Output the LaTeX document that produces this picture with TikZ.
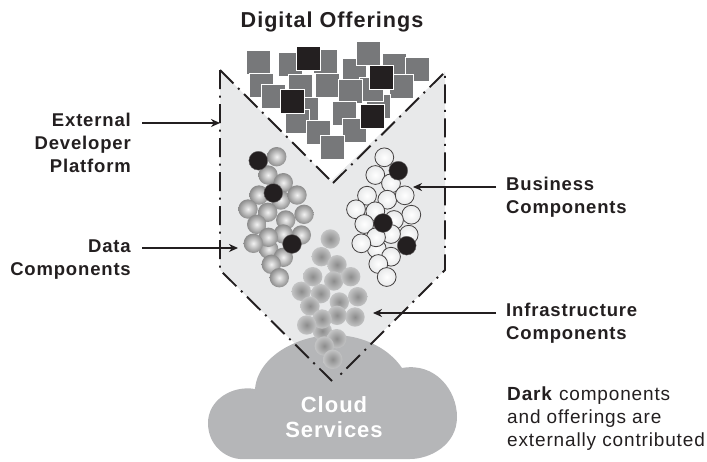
\documentclass[tikz,border=0pt]{standalone}
\usepackage{fontspec}
\setmainfont[LetterSpace=4.5]{Liberation Sans}
\usetikzlibrary{arrows.meta}
\definecolor{funnelgray}{HTML}{E8E9EA}
\definecolor{cloudgray}{HTML}{B5B6B8}
\definecolor{squaregray}{HTML}{77787A}
\definecolor{darkpart}{HTML}{231F20}
\tikzset{
	label/.style={font=\bfseries\fontsize{18.5}{23}\selectfont, text=darkpart, align=left, anchor=west, inner sep=0pt},
	labelr/.style={label, align=right, anchor=east},
	pointer/.style={-{Stealth[length=9pt,width=8pt]}, line width=1.7pt, draw=darkpart},
	outline/.style={line width=1.9pt, draw=darkpart, dash pattern=on 19pt off 6.5pt on 2pt off 6.5pt},
	square/.style={fill=squaregray, draw=white, line width=0.5pt, minimum size=24pt, inner sep=0pt, rectangle},
	darksquare/.style={square, fill=darkpart},
	darkball/.style={fill=darkpart, draw=darkpart!70, line width=0.4pt}
}
\begin{document}
\begin{tikzpicture}[x=1pt,y=-1pt]
	\useasboundingbox (0,0) rectangle (707,461);
	% funnel fill
	\fill[funnelgray] (220,70) -- (331,181) -- (445,72) -- (445,270) -- (333,381) -- (220,270) -- cycle;
	% cloud
	\fill[cloudgray] (255,389) .. controls (258,355) and (300,335) .. (333,335) .. controls (365,335) and (390,350) .. (402,368)
		.. controls (435,362) and (457,390) .. (457,417) .. controls (457,445) and (430,459) .. (410,459) -- (240,459)
		.. controls (225,458) and (208,445) .. (208,423) .. controls (208,400) and (232,385) .. (255,389) -- cycle;
	% offerings
	\foreach \x/\y in {258.7/62.7, 290.7/64.3, 325/61.3, 261/85.3, 273.3/96.3, 300/86.7, 306.7/109.3, 327.7/85.3, 354.3/70.7, 368.3/53.7, 394.3/65, 417.7/69, 401/86, 378/106, 371/89, 350/91, 344.7/113.7, 297.3/121.7, 318.3/132.3, 354.3/130.3, 332.3/147.3}
		\node[square] at (\x,\y) {};
	\foreach \x/\y in {308.3/58.3, 292.3/101, 381/77, 372.7/116.3}
		\node[darksquare] at (\x,\y) {};
	% funnel outline
	\draw[outline] (220,70) -- (329,179);
	\draw[outline] (333,183) -- (445,72) -- (445,270) -- (338,377);
	\draw[outline] (220,70) -- (220,270) -- (332,381);
	% data components
	\foreach \x/\y in {276.7/156.7, 268/175, 283.3/182.7, 259/195, 280.7/200, 297/195, 248/209, 267.7/212.3, 304/214.3, 285.7/220, 256.7/224.3, 301.3/235, 283.3/234, 268.7/249.3, 268.3/237.3, 253.3/243.3, 283.3/257.3, 271.3/264.3, 279.3/277.7}
		\shade[inner color=gray!10, outer color=gray!110!black] (\x,\y) circle (9.7);
	\foreach \x/\y in {258.3/160.7, 273.3/193, 292/244}
		\fill[darkball] (\x,\y) circle (9.4);
	% business components
	\foreach \x/\y in {384.3/157.3, 375.3/175, 391/183.3, 367/195.7, 387.3/199.7, 404.7/195.3, 356/209.3, 375.3/211.3, 411.3/214.7, 394/220, 364.3/224, 408.7/234.7, 391/234, 376.7/248.7, 376/237.3, 361.3/243.3, 391/256.7, 378.3/264, 386.7/277}
		\shadedraw[inner color=white, outer color=funnelgray, draw=darkpart!85, line width=0.8pt] (\x,\y) circle (9.4);
	\foreach \x/\y in {398.3/170.7, 383/223, 406.7/245.7}
		\fill[darkball] (\x,\y) circle (9.4);
	% infrastructure components
	\foreach \x/\y in {330.3/239, 321.3/256.7, 337/264.7, 312.7/276.7, 333.7/281, 350.7/276.7, 301.3/291.3, 320.7/293.7, 357.7/296.7, 339.3/302, 310/306, 355/317, 322.3/331, 337/315.3, 322/319, 306.7/325, 336.7/338.7, 324.3/346, 332.7/359.3}
		\shade[inner color=gray!90, outer color=gray!35!funnelgray] (\x,\y) circle (9.7);
	% labels
	\node[label, font=\bfseries\fontsize{21.6}{26}\selectfont, anchor=center] (offerings) at (332,22) {Digital Offerings};
	\node[labelr] (platform) at (131,143) {External\\Developer\\Platform};
	\node[labelr] (data) at (131,260) {Data\\Components};
	\node[label] (business) at (506,197) {Business\\Components};
	\node[label] (infra) at (506,323) {Infrastructure\\Components};
	\node[label, font=\bfseries\fontsize{22}{25.5}\selectfont, text=white, align=center, anchor=center] (cloud) at (334,417) {Cloud\\Services};
	\node[label, font=\fontsize{19}{23}\selectfont] (note) at (507,419) {\textbf{Dark} components\\and offerings are\\externally contributed};
	% arrows
	\coordinate (platformtip) at (220,123);
	\coordinate (platformtail) at (142,123);
	\coordinate (datatip) at (238,248);
	\coordinate (datatail) at (142,248);
	\coordinate (businesstip) at (413,187);
	\coordinate (businesstail) at (496,187);
	\coordinate (infratip) at (373,313);
	\coordinate (infratail) at (496,313);
	\draw[pointer] (platformtail) -- (platformtip);
	\draw[pointer] (datatail) -- (datatip);
	\draw[pointer] (businesstail) -- (businesstip);
	\draw[pointer] (infratail) -- (infratip);
\end{tikzpicture}
\end{document}
